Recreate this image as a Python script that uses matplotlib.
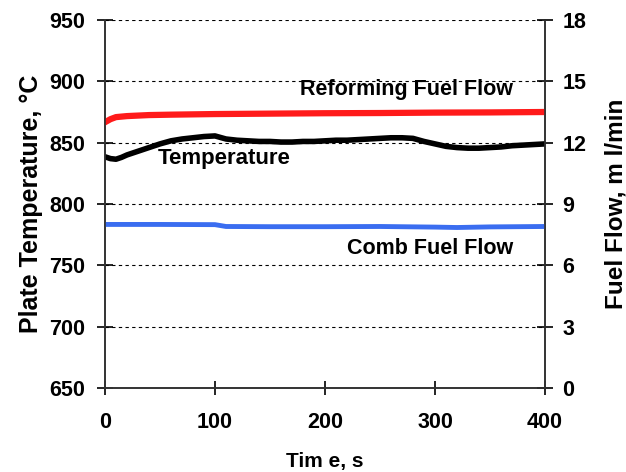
import matplotlib.pyplot as plt

plt.rcParams['font.family'] = ['Liberation Sans', 'DejaVu Sans']
plt.rcParams['font.weight'] = 'bold'

# temperature (left axis, deg C)
temp_t = [0, 5, 10, 15, 20, 30, 40, 50, 60, 70, 80, 90, 100, 110, 120, 130, 140, 150,
          160, 170, 180, 190, 200, 210, 220, 230, 240, 250, 260, 270, 280, 290, 300,
          310, 320, 330, 340, 350, 360, 370, 380, 390, 400]
temp_v = [838.5, 837, 836.5, 838, 840, 843, 846, 849, 851.5, 853, 854, 855, 855.5,
          853, 852, 851.5, 851, 851, 850.5, 850.5, 851, 851, 851.5, 852, 852, 852.5,
          853, 853.5, 854, 854, 853.5, 851, 849, 847, 846, 845.5, 845.5, 846, 846.5,
          847.5, 848, 848.5, 849]

# reforming fuel flow (right axis, ml/min)
ref_t = [0, 5, 10, 20, 40, 60, 100, 150, 200, 250, 300, 350, 400]
ref_v = [13.0, 13.15, 13.25, 13.3, 13.35, 13.37, 13.4, 13.42, 13.44, 13.45, 13.47, 13.48, 13.5]

# combustor fuel flow (right axis, ml/min)
comb_t = [0, 50, 100, 110, 150, 200, 250, 300, 320, 350, 400]
comb_v = [8.0, 8.0, 7.99, 7.9, 7.89, 7.89, 7.9, 7.87, 7.85, 7.88, 7.9]

fig = plt.figure(figsize=(6.26, 4.72), dpi=100)
ax = fig.add_axes([0.1677, 0.178, 0.7029, 0.7796])
ax2 = ax.twinx()

ax.plot(temp_t, temp_v, color='black', lw=4, zorder=3)
ax2.plot(ref_t, ref_v, color='#ff1a1a', lw=4.5)
ax2.plot(comb_t, comb_v, color='#3a6df0', lw=3.5)

ax.set_xlim(0, 400)
ax.set_ylim(650, 950)
ax2.set_ylim(0, 18)
ax.set_xticks([0, 100, 200, 300, 400])
ax.set_yticks(range(650, 951, 50))
ax2.set_yticks(range(0, 19, 3))

for y in range(700, 951, 50):
    ax.axhline(y, color='black', lw=0.8, ls=(0, (3, 3)), zorder=1)

for a in (ax, ax2):
    a.spines['top'].set_visible(False)
    for s in ('left', 'right', 'bottom'):
        a.spines[s].set_linewidth(1.2)
        a.spines[s].set_color('#333333')
    a.tick_params(direction='inout', length=11, width=1.2, labelsize=15.5, colors='black')
ax.tick_params(axis='y', pad=9)
ax.tick_params(axis='x', length=10, pad=12)
ax2.tick_params(axis='y', pad=7)

ax.set_xlabel('Tim e, s', fontsize=15, fontweight='bold', labelpad=14)
ax.set_ylabel('Plate Temperature, \u00b0C', fontsize=18, fontweight='bold', labelpad=4)
ax2.set_ylabel('Fuel Flow, m l/min', fontsize=17.5, fontweight='bold', labelpad=13)

ax.text(177, 893, 'Reforming Fuel Flow', fontsize=15.5, fontweight='bold', va='center')
ax.text(48, 837, 'Temperature', fontsize=16, fontweight='bold', va='center')
ax.text(220, 764, 'Comb Fuel Flow', fontsize=15.5, fontweight='bold', va='center')

fig.savefig('out.png', dpi=100)
